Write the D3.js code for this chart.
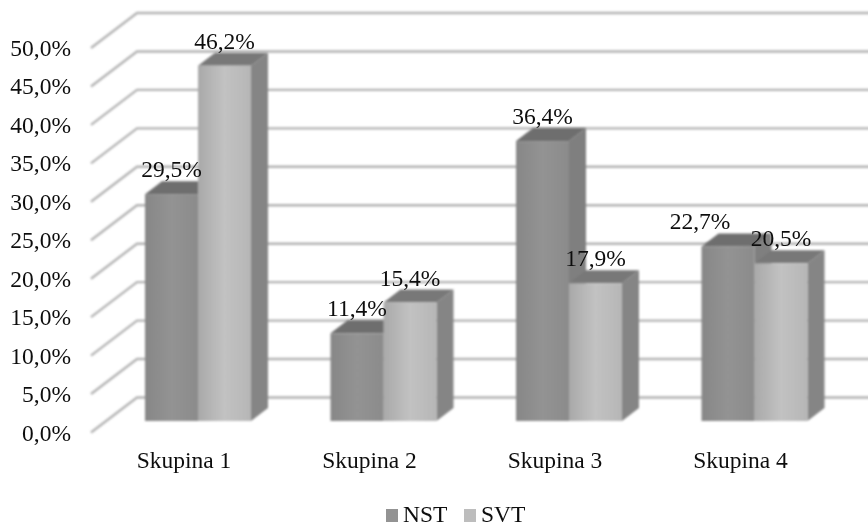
<!DOCTYPE html>
<html>
<head>
<meta charset="utf-8">
<script src="https://d3js.org/d3.v7.min.js"></script>
<style>
  html, body { margin: 0; padding: 0; background: #fff; }
  text { font-family: "Liberation Serif", serif; font-size: 23.5px; fill: #111; }
</style>
</head>
<body>
<div id="chart"></div>
<script>
const categories = ["Skupina 1", "Skupina 2", "Skupina 3", "Skupina 4"];
const seriesNames = ["NST", "SVT"];
const nstValues = [29.5, 11.4, 36.4, 22.7];
const svtValues = [46.2, 15.4, 17.9, 20.5];
const tickValues = [0, 5, 10, 15, 20, 25, 30, 35, 40, 45, 50];

const width = 868, height = 524;
const comma = v => v.toFixed(1).replace(".", ",") + "%";

const svg = d3.select("#chart").append("svg")
    .attr("width", width)
    .attr("height", height)
    .style("display", "block");

// front edge of the floor sits at y=432, back wall is shifted by depth
const margins = { left: 91, bottom: 432.5 };
const depth = { x: 46, y: 35 };
const barDepth = { x: 17, y: 13 };
const barInset = { x: 14.5, y: 11.5 };

const xScale = d3.scaleBand().domain(categories).range([margins.left, margins.left + 742]);
const yScale = d3.scaleLinear().domain([0, 50]).range([margins.bottom, 48]);
const innerX = d3.scaleBand().domain(seriesNames).range([0, 106]);

const defs = svg.append("defs");
defs.append("filter").attr("id", "soft")
    .append("feGaussianBlur").attr("stdDeviation", 0.9);
defs.append("filter").attr("id", "softText")
    .append("feGaussianBlur").attr("stdDeviation", 0.3);

const shades = {
    NST: { front: ["#878787", "#939393", "#8b8b8b"], top: "#6e6e6e", side: "#7f7f7f", key: "#939393" },
    SVT: { front: ["#a9a9a9", "#c2c2c2", "#b6b6b6"], top: "#787878", side: "#858585", key: "#bdbdbd" }
};
seriesNames.forEach(name => {
    const grad = defs.append("linearGradient").attr("id", "front-" + name);
    shades[name].front.forEach((c, i) => {
        grad.append("stop").attr("offset", (i * 50) + "%").attr("stop-color", c);
    });
});

// grid lines: diagonal on the left wall, then straight along the back
const grid = svg.append("g").attr("filter", "url(#soft)");
grid.selectAll("path")
    .data(tickValues)
    .enter().append("path")
    .attr("fill", "none")
    .attr("stroke", "#b4b4b4")
    .attr("stroke-width", 2.4)
    .attr("d", d => {
        const y = yScale(d);
        return `M${margins.left},${y}L${margins.left + depth.x},${y - depth.y}L${width + 4},${y - depth.y}`;
    });

const bars = svg.append("g").attr("filter", "url(#soft)");

const barLeft = (category, name) => xScale(category) + barInset.x + 39.5 + innerX(name);

function drawBar(category, name, value) {
    const x0 = barLeft(category, name);
    const x1 = x0 + innerX.bandwidth();
    const yBottom = yScale(0) - barInset.y;
    const yTop = yScale(value) - barInset.y;
    const g = bars.append("g");
    // side face
    g.append("path")
        .attr("fill", shades[name].side)
        .attr("d", `M${x1},${yTop}L${x1 + barDepth.x},${yTop - barDepth.y}L${x1 + barDepth.x},${yBottom - barDepth.y}L${x1},${yBottom}Z`);
    // top face
    g.append("path")
        .attr("fill", shades[name].top)
        .attr("d", `M${x0},${yTop}L${x0 + barDepth.x},${yTop - barDepth.y}L${x1 + barDepth.x},${yTop - barDepth.y}L${x1},${yTop}Z`);
    // front face
    g.append("rect")
        .attr("x", x0)
        .attr("y", yTop)
        .attr("width", x1 - x0)
        .attr("height", yBottom - yTop)
        .attr("fill", `url(#front-${name})`);
}

categories.forEach((c, i) => {
    drawBar(c, "NST", nstValues[i]);
    drawBar(c, "SVT", svtValues[i]);
});

// value labels go on top of everything
const labels = svg.append("g").attr("filter", "url(#softText)");
categories.forEach((c, i) => {
    [["NST", nstValues[i]], ["SVT", svtValues[i]]].forEach(([name, value]) => {
        // the last NST label was dragged left in the original so it clears its neighbour
        const nudge = name === "NST" && i === 3 ? -28 : 0;
        labels.append("text")
            .attr("x", barLeft(c, name) + innerX.bandwidth() / 2 + nudge)
            .attr("y", yScale(value) - barInset.y - 17)
            .attr("text-anchor", "middle")
            .text(comma(value));
    });
});

// y tick labels
svg.append("g").attr("filter", "url(#softText)").selectAll("text")
    .data(tickValues)
    .enter().append("text")
    .attr("x", 71)
    .attr("y", d => yScale(d) + 8)
    .attr("text-anchor", "end")
    .text(comma);

// category labels
svg.append("g").attr("filter", "url(#softText)").selectAll("text")
    .data(categories)
    .enter().append("text")
    .attr("x", d => xScale(d) + 93)
    .attr("y", 468)
    .attr("text-anchor", "middle")
    .text(d => d);

// legend
const legend = svg.append("g").attr("filter", "url(#softText)");
const legendX = { NST: 386, SVT: 464 };
seriesNames.forEach(name => {
    legend.append("rect")
        .attr("x", legendX[name])
        .attr("y", 509)
        .attr("width", 12)
        .attr("height", 13)
        .attr("fill", shades[name].key);
    legend.append("text")
        .attr("x", legendX[name] + 17)
        .attr("y", 522)
        .text(name);
});
</script>
</body>
</html>
